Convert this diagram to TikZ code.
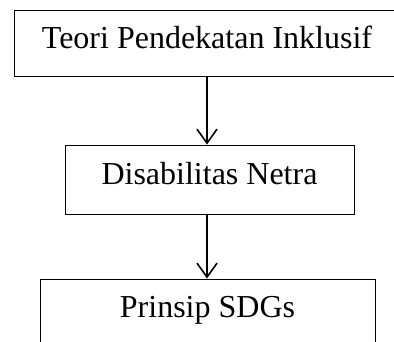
\documentclass[tikz,border=0pt]{standalone}
\usepackage{fontspec}
\setmainfont{Liberation Serif}
\usetikzlibrary{positioning,arrows.meta}
\tikzset{
  block/.style = {draw, line width=1pt, rectangle, minimum height=66pt, inner sep=0pt,
                  text height=22pt, text depth=12pt, font=\fontsize{32}{36}\selectfont},
  flow/.style  = {line width=2pt, -{Straight Barb[length=14pt, width=20pt, line width=1.6pt]}}
}

\begin{document}
\begin{tikzpicture}[x=1pt, y=1pt, node distance=136.5pt]
\useasboundingbox (0,0) rectangle (394,-341);
\clip (0,0) rectangle (394,-341);

% Boxes
\node [block, minimum width=386pt] (teori) at (207,-43) {Teori Pendekatan Inklusif};
\node [block, minimum width=289pt, minimum height=69pt, below of=teori, xshift=2.5pt] (netra) {Disabilitas Netra};
\node [block, minimum width=335pt, below of=netra, node distance=132.5pt, xshift=-2pt] (sdgs) {Prinsip SDGs};

% Connections
\draw [flow] (teori.south) -- (teori.south |- netra.north);
\draw [flow] (netra.south -| teori.south) -- (sdgs.north -| teori.south);

\end{tikzpicture}
\end{document}
